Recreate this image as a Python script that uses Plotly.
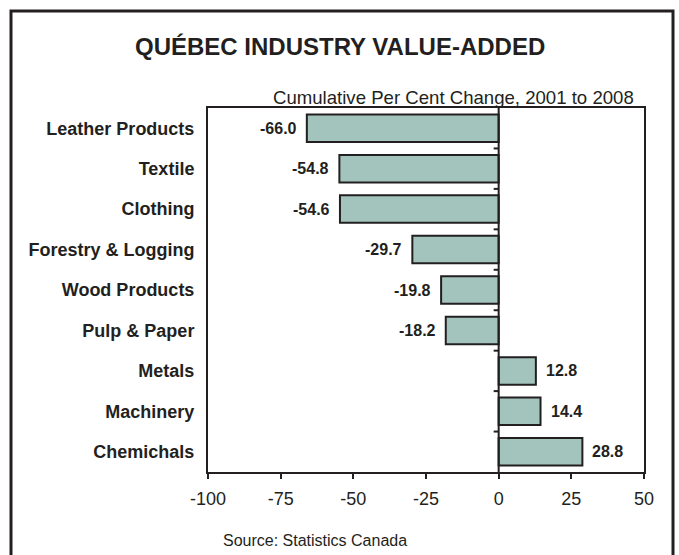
import plotly.graph_objects as go

categories = ["Leather Products", "Textile", "Clothing", "Forestry & Logging",
              "Wood Products", "Pulp & Paper", "Metals", "Machinery", "Chemichals"]
values = [-66.0, -54.8, -54.6, -29.7, -19.8, -18.2, 12.8, 14.4, 28.8]
x_ticks = [-100, -75, -50, -25, 0, 25, 50]
x_tick_labels = ["-100", "-75", "-50", "-25", "0", "25", "50"]

W, H = 679, 555
L, R, T, B = 208, 35, 108, 83
pw, ph = W - L - R, H - T - B

def px_x(p):
    return (p - L) / pw

def px_y(p):
    return (H - B - p) / ph

DARK = "#231f20"
FILL = "#a2c4bc"
FONT = "Liberation Sans, Arial, sans-serif"

fig = go.Figure()
fig.add_trace(go.Bar(
    x=values, y=categories, orientation="h", width=0.68,
    marker=dict(color=FILL, line=dict(color=DARK, width=2)),
    hoverinfo="skip",
))

annotations = []
for c, v in zip(categories, values):
    annotations.append(dict(
        x=v, y=c, xref="x", yref="y", text=f"<b>{v:.1f}</b>", showarrow=False,
        xanchor="right" if v < 0 else "left", xshift=-8 if v < 0 else 8,
        font=dict(family=FONT, size=16, color=DARK),
    ))

annotations += [
    dict(x=px_x(W / 2), y=px_y(47), xref="paper", yref="paper", xanchor="center", yanchor="middle",
         text="<b>QUÉBEC INDUSTRY VALUE-ADDED</b>", showarrow=False,
         font=dict(family=FONT, size=24, color=DARK)),
    dict(x=px_x(636), y=px_y(97), xref="paper", yref="paper", xanchor="right", yanchor="middle",
         text="Cumulative Per Cent Change, 2001 to 2008", showarrow=False,
         font=dict(family=FONT, size=18.6, color=DARK)),
    dict(x=px_x(221), y=px_y(540), xref="paper", yref="paper", xanchor="left", yanchor="middle",
         text="Source: Statistics Canada", showarrow=False,
         font=dict(family=FONT, size=16, color=DARK)),
]

shapes = [
    # outer frame (open at bottom)
    dict(type="path", xref="paper", yref="paper",
         path=f"M {px_x(11)} {px_y(560)} L {px_x(11)} {px_y(11)} L {px_x(673)} {px_y(11)} L {px_x(673)} {px_y(560)}",
         line=dict(color=DARK, width=3)),
    # zero line
    dict(type="line", xref="x", yref="paper", x0=0, x1=0, y0=0, y1=1,
         line=dict(color=DARK, width=2)),
]
for i in range(len(categories) - 1):
    shapes.append(dict(type="line", xref="x", yref="y", xsizemode="pixel", xanchor=0,
                       x0=-5, x1=0, y0=i + 0.5, y1=i + 0.5,
                       line=dict(color=DARK, width=2)))

fig.update_layout(
    width=W, height=H, margin=dict(l=L, r=R, t=T, b=B),
    paper_bgcolor="white", plot_bgcolor="white", showlegend=False,
    bargap=0.3,
    xaxis=dict(range=[-100, 50], tickvals=x_ticks, ticktext=x_tick_labels,
               ticks="outside", ticklen=5,
               tickwidth=2, tickcolor=DARK, showline=True, linecolor=DARK, linewidth=2,
               mirror=True, showgrid=False, zeroline=False,
               tickfont=dict(family=FONT, size=18, color=DARK), ticklabelstandoff=4),
    yaxis=dict(categoryorder="array", categoryarray=categories, autorange="reversed",
               showline=True, linecolor=DARK, linewidth=2, mirror=True, showgrid=False,
               zeroline=False, ticks="", ticklabelstandoff=8,
               tickfont=dict(family=FONT, size=18, color=DARK, weight="bold")),
    annotations=annotations, shapes=shapes,
)

fig.write_html("out.html", config={"displayModeBar": False},
               post_script="document.body.style.margin='0';document.body.style.padding='0';")
